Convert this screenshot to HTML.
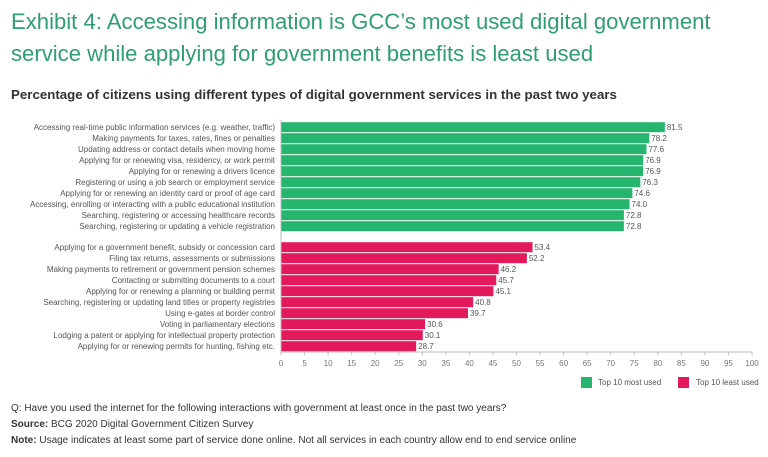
<!DOCTYPE html>
<html><head><meta charset="utf-8"><style>
body{margin:0;width:768px;height:457px;background:#fff;font-family:"Liberation Sans",sans-serif;overflow:hidden;position:relative}
.t{position:absolute;white-space:nowrap}
</style></head><body>
<div class="t" style="left:11px;top:6px;font-size:22.1px;color:#2f9e72;line-height:32px">Exhibit 4: Accessing information is GCC’s most used digital government<br>service while applying for government benefits is least used</div>
<div class="t" style="left:11px;top:87px;font-size:13.3px;font-weight:bold;color:#333">Percentage of citizens using different types of digital government services in the past two years</div>
<svg id="c" width="768" height="400" style="position:absolute;left:0;top:0"></svg>
<div class="t" style="left:11px;top:403px;font-size:10px;color:#333">Q: Have you used the internet for the following interactions with government at least once in the past two years?</div>
<div class="t" style="left:11px;top:419px;font-size:10px;color:#333"><b>Source:</b> BCG 2020 Digital Government Citizen Survey</div>
<div class="t" style="left:11px;top:435px;font-size:10px;color:#333"><b>Note:</b> Usage indicates at least some part of service done online. Not all services in each country allow end to end service online</div>
<script>
const topLabels=["Accessing real-time public information services (e.g. weather, traffic)","Making payments for taxes, rates, fines or penalties","Updating address or contact details when moving home","Applying for or renewing visa, residency, or work permit","Applying for or renewing a drivers licence","Registering or using a job search or employment service","Applying for or renewing an identity card or proof of age card","Accessing, enrolling or interacting with a public educational institution","Searching, registering or accessing healthcare records","Searching, registering or updating a vehicle registration"];
const topValues=[81.5,78.2,77.6,76.9,76.9,76.3,74.6,74.0,72.8,72.8];
const leastLabels=["Applying for a government benefit, subsidy or concession card","Filing tax returns, assessments or submissions","Making payments to retirement or government pension schemes","Contacting or submitting documents to a court","Applying for or renewing a planning or building permit","Searching, registering or updating land titles or property registries","Using e-gates at border control","Voting in parliamentary elections","Lodging a patent or applying for intellectual property protection","Applying for or renewing permits for hunting, fishing etc."];
const leastValues=[53.4,52.2,46.2,45.7,45.1,40.8,39.7,30.6,30.1,28.7];
const ticks=[0,5,10,15,20,25,30,35,40,45,50,55,60,65,70,75,80,85,90,95,100];
const svg=document.getElementById('c');const NS='http://www.w3.org/2000/svg';
const x=v=>281+v*4.71;
function mk(t,a,txt){const e=document.createElementNS(NS,t);for(const k in a)e.setAttribute(k,a[k]);if(txt!==undefined)e.textContent=txt;svg.appendChild(e);return e;}
function group(labels,vals,y0,color,nm){
labels.forEach((l,i)=>{const yc=y0+i*11;
const t=mk('text',{x:275,y:yc+3,'text-anchor':'end','font-size':8,fill:'#555'},l);


const r=mk('rect',{x:x(0),y:yc-4.8,width:x(vals[i])-x(0),height:10,fill:color});


const v=mk('text',{x:x(vals[i])+2,y:yc+3,'font-size':8,fill:'#555'},vals[i].toFixed(1));

});}
group(topLabels,topValues,127,'#26b56f','top-used');
group(leastLabels,leastValues,247,'#e2195a','least-used');
mk('line',{x1:x(0),y1:120,x2:x(0),y2:352,stroke:'#bbb'});
const ax=mk('line',{x1:x(0),y1:352,x2:x(100),y2:352,stroke:'#bbb'});


ticks.forEach(t=>{mk('line',{x1:x(t),y1:352,x2:x(t),y2:355,stroke:'#bbb'});
const tl=mk('text',{x:x(t),y:366,'text-anchor':'middle','font-size':8,fill:'#777'},t);

});
const l1=mk('rect',{x:581,y:377,width:11,height:11,fill:'#26b56f'});


const l2=mk('text',{x:598,y:385,'font-size':8,fill:'#555'},'Top 10 most used');


const l3=mk('rect',{x:678,y:377,width:11,height:11,fill:'#e2195a'});


const l4=mk('text',{x:696,y:385,'font-size':8,fill:'#555'},'Top 10 least used');


</script>
</body></html>
